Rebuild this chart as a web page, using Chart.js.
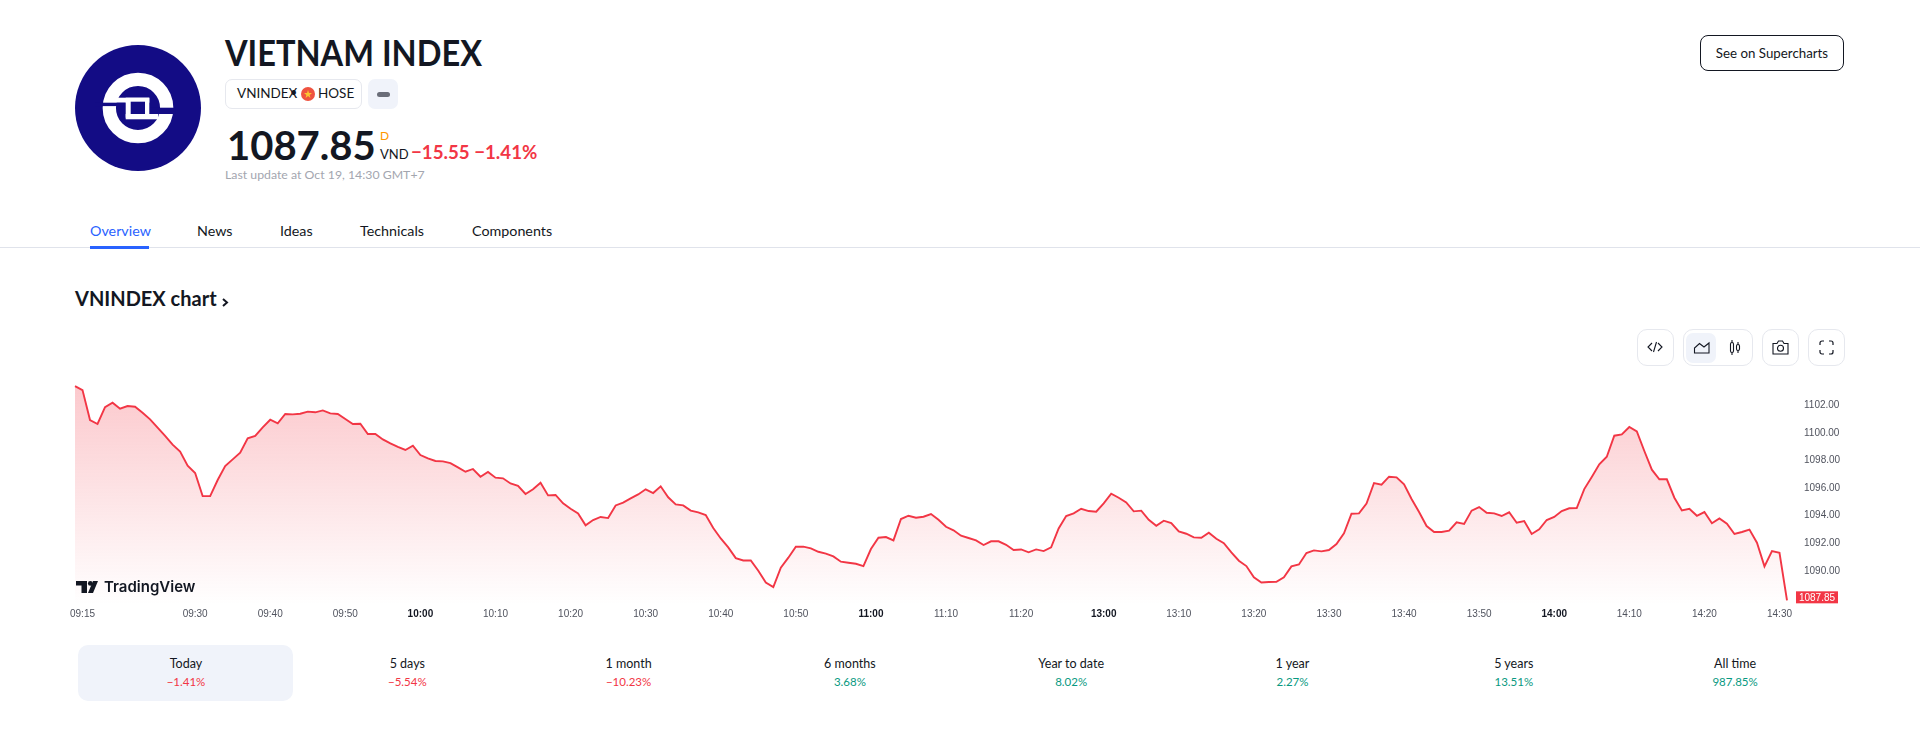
<!DOCTYPE html>
<html lang="en">

<head>
  <meta charset="UTF-8">
  <title>VNINDEX chart</title>
  <script src="https://cdn.jsdelivr.net/npm/chart.js"></script>
  <style>
    html, body { margin: 0; padding: 0; background: #fff; }
    body { width: 1920px; height: 733px; overflow: hidden; position: relative; font-family: "Lato", "Noto Sans", sans-serif; color: #131722; }
    .abs { position: absolute; white-space: nowrap; line-height: 1; }
    .narrow { font-family: "Liberation Sans Narrow", "Lato", sans-serif; }
    .box { position: absolute; box-sizing: border-box; border: 1px solid #e6e8ee; border-radius: 10px; background: #fff; }
    .tab { top: 224px; font-size: 14.3px; }
    .period { width: 160px; text-align: center; font-size: 12.5px; }
    .change { width: 160px; text-align: center; font-size: 11.5px; }
    svg { position: absolute; overflow: visible; }
    #myChart { position: absolute; left: 60px; top: 370px; }
  </style>
</head>

<body>

  <!-- logo -->
  <svg style="left:75px;top:45px" width="126" height="126" viewBox="0 0 126 126">
    <circle cx="63" cy="63" r="63" fill="#130c85"/>
    <circle cx="63" cy="63" r="28.7" fill="none" stroke="#fff" stroke-width="13.3"/>
    <rect x="33" y="52.7" width="41.3" height="5" fill="#fff"/>
    <rect x="50.7" y="69" width="32.6" height="5.3" fill="#fff"/>
    <rect x="20" y="57.7" width="30.7" height="3.4" fill="#130c85"/>
    <rect x="74.3" y="62.7" width="26" height="6.3" fill="#130c85"/>
    <rect x="50.7" y="52.7" width="23.6" height="20" fill="#fff"/>
    <rect x="55.7" y="56.7" width="14.3" height="12.3" fill="#130c85"/>
  </svg>

  <div class="abs" style="left:225px;top:33px;font-size:37px;font-weight:700;transform:scaleX(0.88);transform-origin:left">VIETNAM INDEX</div>

  <div class="box" style="left:225px;top:79px;width:137px;height:30px;border-radius:7px"></div>
  <div class="abs narrow" style="left:237px;top:87px;font-size:13.5px">VNINDEX</div>
  <div class="abs" style="left:290px;top:87px;font-size:12.5px">•</div>
  <svg style="left:301px;top:87px" width="14" height="14" viewBox="0 0 14 14">
    <circle cx="7" cy="7" r="7" fill="#ef5340"/>
    <path d="M7 3 L8 6 L11 6 L8.6 7.9 L9.5 11 L7 9.1 L4.5 11 L5.4 7.9 L3 6 L6 6 Z" fill="#fbc531"/>
  </svg>
  <div class="abs narrow" style="left:318px;top:87px;font-size:13.5px">HOSE</div>
  <div class="box" style="left:368px;top:79px;width:30px;height:30px;border:0;border-radius:7px;background:#f0f3fa"></div>
  <div class="box" style="left:377px;top:92px;width:13px;height:5px;border:0;border-radius:3px;background:#6a6d78"></div>

  <div class="abs" style="left:227px;top:125px;font-size:40px;font-weight:700">1087.85</div>
  <div class="abs" style="left:380px;top:130px;font-size:12px;color:#ff9800">D</div>
  <div class="abs narrow" style="left:380px;top:148px;font-size:13px">VND</div>
  <div class="abs" style="left:411px;top:143px;font-size:18.7px;font-weight:700;color:#f23645">−15.55 −1.41%</div>
  <div class="abs" style="left:225px;top:169px;font-size:12.3px;color:#a3a6af">Last update at Oct 19, 14:30 GMT+7</div>

  <div class="abs" style="left:1700px;top:35px;width:144px;height:36px;box-sizing:border-box;border:1px solid #131722;border-radius:8px;text-align:center;line-height:34px;font-size:13.3px">See on Supercharts</div>

  <!-- tabs -->
  <div class="abs tab" style="left:90px;color:#2962ff">Overview</div>
  <div class="abs tab" style="left:197px">News</div>
  <div class="abs tab" style="left:280px">Ideas</div>
  <div class="abs tab" style="left:360px">Technicals</div>
  <div class="abs tab" style="left:472px">Components</div>
  <div class="box" style="left:0;top:247px;width:1920px;height:1px;border:0;border-radius:0;background:#e0e3eb"></div>
  <div class="box" style="left:90px;top:246px;width:59px;height:3px;border:0;border-radius:0;background:#2962ff"></div>

  <div class="abs" style="left:75px;top:288px;font-size:20px;font-weight:700">VNINDEX chart</div>
  <svg style="left:222px;top:298px" width="7" height="9" fill="none" stroke="#131722" stroke-width="2">
    <path d="M1 1 L5 4.5 L1 8"/>
  </svg>

  <!-- toolbar -->
  <div class="box" style="left:1637px;top:329px;width:37px;height:37px"></div>
  <div class="box" style="left:1683px;top:329px;width:70px;height:37px"></div>
  <div class="box" style="left:1686px;top:333px;width:30px;height:30px;border:0;border-radius:7px;background:#f0f3fa"></div>
  <div class="box" style="left:1762px;top:329px;width:37px;height:37px"></div>
  <div class="box" style="left:1808px;top:329px;width:37px;height:37px"></div>
  <svg style="left:1647px;top:340px" width="16" height="14" fill="none" stroke="#131722" stroke-width="1.1">
    <path d="M5 3 L1 7 L5 11 M11 3 L15 7 L11 11 M9.5 2 L6.5 12"/>
  </svg>
  <svg style="left:1694px;top:341px" width="16" height="13" fill="none" stroke="#131722" stroke-width="1.1">
    <path d="M0.5 12 H15 V2 L10 6 L5.5 2.5 L0.5 7 Z"/>
  </svg>
  <svg style="left:1729px;top:340px" width="12" height="16" fill="none" stroke="#131722" stroke-width="1.1">
    <rect x="1.5" y="2.5" width="3" height="10" rx="1.5"/><path d="M3 0 V2.5 M3 12.5 V15"/>
    <rect x="7.5" y="4.5" width="3" height="6" rx="1.5"/><path d="M9 2 V4.5 M9 10.5 V13"/>
  </svg>
  <svg style="left:1772px;top:340px" width="17" height="15" fill="none" stroke="#131722" stroke-width="1.1">
    <path d="M1 3.5 H5 L6.5 1 H10.5 L12 3.5 H16 V14 H1 Z"/><circle cx="8.5" cy="8.3" r="3"/>
  </svg>
  <svg style="left:1819px;top:340px" width="16" height="16" fill="none" stroke="#131722" stroke-width="1.2">
    <path d="M1 5 V3 A2 2 0 0 1 3 1 H5 M10 1 H12 A2 2 0 0 1 14 3 V5 M14 10 V12 A2 2 0 0 1 12 14 H10 M5 14 H3 A2 2 0 0 1 1 12 V10"/>
  </svg>

  <canvas id="myChart" width="1800" height="260"></canvas>

  <!-- TradingView mark -->
  <svg style="left:76px;top:581px" width="22" height="12" viewBox="0 0 22 12" fill="#131722">
    <path d="M0 0 H11 V12 H5.5 V4.5 H0 Z"/><circle cx="14.3" cy="2.4" r="2.4"/><path d="M22 0 H17 L12 12 H17 Z"/>
  </svg>
  <div class="abs" style="left:104px;top:579px;font-size:15px;font-weight:600;font-family:Inter,sans-serif">TradingView</div>

  <!-- performance row -->
  <div class="box" style="left:78px;top:645px;width:215px;height:56px;border:0;background:#f0f3fa"></div>
  <div id="periodRow"></div>

</body>

</html>
<script>

  const values = [
    1103.43, 1103.14, 1100.96, 1100.67, 1101.90, 1102.22, 1101.78, 1101.98, 1101.93, 1101.49,
    1101.01, 1100.40, 1099.80, 1099.17, 1098.66, 1097.64, 1097.11, 1095.43, 1095.43, 1096.60,
    1097.61, 1098.10, 1098.58, 1099.63, 1099.80, 1100.43, 1100.98, 1100.72, 1101.40, 1101.37,
    1101.42, 1101.57, 1101.52, 1101.66, 1101.44, 1101.40, 1101.03, 1100.67, 1100.69, 1099.94,
    1099.94, 1099.55, 1099.26, 1099.00, 1098.78, 1099.09, 1098.41, 1098.17, 1097.98, 1097.95,
    1097.83, 1097.52, 1097.20, 1097.40, 1096.84, 1097.18, 1096.77, 1096.72, 1096.35, 1096.18,
    1095.58, 1095.92, 1096.40, 1095.48, 1095.51, 1094.90, 1094.51, 1094.17, 1093.30, 1093.69,
    1093.91, 1093.83, 1094.75, 1094.95, 1095.26, 1095.55, 1095.92, 1095.65, 1096.14, 1095.34,
    1094.83, 1094.75, 1094.37, 1094.24, 1094.05, 1093.11, 1092.35, 1091.70, 1090.92, 1090.75,
    1090.75, 1090.00, 1089.15, 1088.81, 1090.22, 1090.95, 1091.75, 1091.75, 1091.63, 1091.38,
    1091.24, 1091.04, 1090.66, 1090.58, 1090.51, 1090.34, 1091.58, 1092.40, 1092.45, 1092.21,
    1093.76, 1094.00, 1093.86, 1093.93, 1094.12, 1093.71, 1093.20, 1092.94, 1092.55, 1092.38,
    1092.21, 1091.87, 1092.14, 1092.14, 1091.89, 1091.51, 1091.55, 1091.34, 1091.55, 1091.43,
    1091.70, 1093.08, 1093.98, 1094.17, 1094.51, 1094.34, 1094.29, 1094.90, 1095.60, 1095.31,
    1094.97, 1094.32, 1094.37, 1093.71, 1093.27, 1093.64, 1093.47, 1092.86, 1092.69, 1092.43,
    1092.40, 1092.77, 1092.33, 1092.01, 1091.34, 1090.73, 1090.34, 1089.52, 1089.15, 1089.18,
    1089.20, 1089.52, 1090.32, 1090.46, 1091.29, 1091.48, 1091.41, 1091.51, 1091.94, 1092.72,
    1094.15, 1094.17, 1094.88, 1096.38, 1096.26, 1096.84, 1096.79, 1096.28, 1095.22, 1094.27,
    1093.25, 1092.82, 1092.82, 1092.91, 1093.52, 1093.40, 1094.37, 1094.63, 1094.22, 1094.17,
    1093.98, 1094.25, 1093.49, 1093.62, 1092.67, 1093.01, 1093.69, 1093.91, 1094.34, 1094.54,
    1094.56, 1095.94, 1096.82, 1097.74, 1098.29, 1099.82, 1099.92, 1100.45, 1100.14, 1098.71,
    1097.35, 1096.65, 1096.65, 1095.31, 1094.39, 1094.51, 1094.00, 1094.27, 1093.45, 1093.81,
    1093.42, 1092.67, 1092.82, 1092.99, 1092.04, 1090.32, 1091.43, 1091.31, 1087.85
  ];

  // bar index of every time label, same order as tickLabels
  const tickBars = [1, 16, 26, 36, 46, 56, 66, 76, 86, 96, 106, 116, 126, 137, 147, 157, 167, 177, 187, 197, 207, 217, 227];
  const tickLabels = ['09:15', '09:30', '09:40', '09:50', '10:00', '10:10', '10:20', '10:30', '10:40', '10:50', '11:00',
    '11:10', '11:20', '13:00', '13:10', '13:20', '13:30', '13:40', '13:50', '14:00', '14:10', '14:20', '14:30'];
  const boldLabels = ['10:00', '11:00', '13:00', '14:00'];
  const priceTicks = [1102, 1100, 1098, 1096, 1094, 1092, 1090];

  const periods = ['Today', '5 days', '1 month', '6 months', 'Year to date', '1 year', '5 years', 'All time'];
  const returns = ['−1.41%', '−5.54%', '−10.23%', '3.68%', '8.02%', '2.27%', '13.51%', '987.85%'];

  const RED = '#f23645';
  const GREEN = '#089981';
  const TICK_FONT = '"Liberation Sans Narrow", "Liberation Sans", sans-serif';

  // performance row under the chart
  const periodRow = document.getElementById('periodRow');
  periods.forEach(function (name, i) {
    const center = 186 + i * 221.3;
    const color = returns[i].startsWith('−') ? RED : GREEN;
    periodRow.insertAdjacentHTML('beforeend',
      '<div class="abs period" style="left:' + (center - 80) + 'px;top:658px">' + name + '</div>' +
      '<div class="abs change" style="left:' + (center - 80) + 'px;top:676px;color:' + color + '">' + returns[i] + '</div>');
  });

  const categories = values.map(function (v, i) {
    const k = tickBars.indexOf(i);
    return k >= 0 ? tickLabels[k] : '';
  });

  // red tag with the last price on the right axis
  const lastPriceTag = {
    id: 'lastPriceTag',
    afterDraw: function (chart) {
      const ctx = chart.ctx;
      const y = chart.scales.y.getPixelForValue(values[values.length - 1]) - 3;
      const x = chart.chartArea.right + 9;
      ctx.save();
      ctx.fillStyle = RED;
      ctx.fillRect(x, y - 6, 42, 12);
      ctx.fillStyle = '#fff';
      ctx.font = '10px ' + TICK_FONT;
      ctx.textBaseline = 'middle';
      ctx.textAlign = 'center';
      ctx.fillText(values[values.length - 1].toFixed(2), x + 21, y + 0.5);
      ctx.restore();
    }
  };

  const ctx = document.getElementById('myChart').getContext('2d');
  const myChart = new Chart(ctx, {
    type: 'line',
    data: {
      labels: categories,
      datasets: [{
        label: 'VNINDEX',
        data: values,
        borderColor: RED,
        borderWidth: 1.9,
        pointRadius: 0,
        tension: 0,
        fill: 'start',
        backgroundColor: function (context) {
          const area = context.chart.chartArea;
          if (!area) return 'rgba(242, 54, 69, 0.2)';
          const g = context.chart.ctx.createLinearGradient(0, area.top, 0, area.bottom);
          g.addColorStop(0, 'rgba(242, 54, 69, 0.28)');
          g.addColorStop(1, 'rgba(242, 54, 69, 0)');
          return g;
        }
      }]
    },
    options: {
      responsive: false,
      devicePixelRatio: 1,
      animation: false,
      layout: { padding: { left: 15, top: 10, right: 0, bottom: 0 } },
      plugins: { legend: { display: false }, tooltip: { enabled: false } },
      scales: {
        x: {
          grid: { display: false, drawTicks: false },
          border: { display: false },
          afterFit: function (scale) {
            scale.height = 25;
            scale.paddingLeft = 0;
            scale.paddingRight = 0;
          },
          ticks: {
            autoSkip: false,
            maxRotation: 0,
            padding: 3,
            color: function (c) { return boldLabels.includes(c.tick.label) ? '#131722' : '#50535e'; },
            font: function (c) {
              return { family: TICK_FONT, size: 10, weight: boldLabels.includes(c.tick.label) ? 'bold' : 'normal' };
            }
          }
        },
        y: {
          position: 'right',
          min: 1087.51,
          max: 1103.87,
          grid: { display: false, drawTicks: false },
          border: { display: false },
          afterFit: function (scale) {
            scale.width = 73;
            scale.paddingTop = 0;
            scale.paddingBottom = 0;
          },
          afterBuildTicks: function (scale) {
            scale.ticks = priceTicks.map(function (v) { return { value: v }; });
          },
          ticks: {
            padding: 17,
            color: '#50535e',
            font: { family: TICK_FONT, size: 10 },
            callback: function (v) { return v.toFixed(2); }
          }
        }
      }
    },
    plugins: [lastPriceTag]
  });

</script>
